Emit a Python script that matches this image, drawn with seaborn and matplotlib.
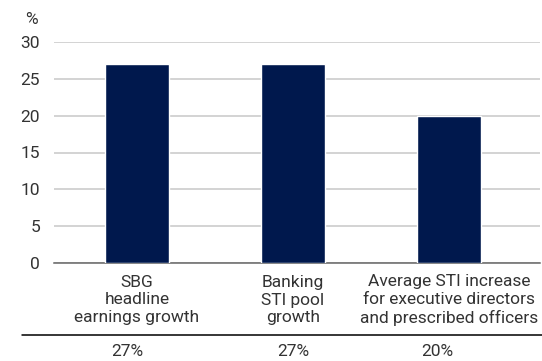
import matplotlib
matplotlib.use("Agg")
import matplotlib.pyplot as plt
import matplotlib.transforms as mtransforms
import seaborn as sns
import pandas as pd

# chart data
categories = ["SBG\nheadline\nearnings growth",
              "Banking\nSTI pool\ngrowth",
              "Average STI increase\nfor executive directors\nand prescribed officers"]
values = [27, 27, 20]
value_labels = ["27%", "27%", "20%"]
yticks = [0, 5, 10, 15, 20, 25, 30]

df = pd.DataFrame({"cat": categories, "val": values})

sns.set_style("white")
plt.rcParams["font.family"] = ["Roboto", "DejaVu Sans"]
text_col = "#333333"
fs = 12.5

W, H = 542, 361
fig = plt.figure(figsize=(W / 100, H / 100), dpi=100)
ax = fig.add_axes([54 / W, 1 - 263 / H, 486 / W, 221 / H])

sns.barplot(data=df, x="cat", y="val", color="#00184D", width=0.41,
            saturation=1, ax=ax, zorder=3)

ax.set_ylim(0, 30)
ax.set_xlim(-0.532, 2.583)
ax.set_yticks(yticks)
ax.set_yticklabels([str(t) for t in yticks], fontsize=fs, color=text_col)
ax.yaxis.grid(True, color="#c8c8c8", linewidth=1.1, zorder=0)
ax.tick_params(axis="y", length=0, pad=10)
ax.tick_params(axis="x", length=0)
for s in ["top", "right", "left"]:
    ax.spines[s].set_visible(False)
ax.spines["bottom"].set_color("#666666")
ax.spines["bottom"].set_linewidth(1.1)
ax.set_xlabel("")
ax.set_ylabel("")
ax.set_xticklabels([])

trans = mtransforms.blended_transform_factory(ax.transData, fig.transFigure)

# % unit label
fig.text(31 / W, 1 - 20 / H, "%", fontsize=fs, color=text_col, ha="center", va="center")

# category labels under bars
for i, c in enumerate(categories):
    fig.text(i, 1 - 300 / H, c, ha="center", va="center", fontsize=fs, color=text_col,
             linespacing=1.2, transform=trans)

# table rule and values
fig.add_artist(plt.Line2D([22 / W, 1], [1 - 335 / H] * 2, color="black", linewidth=1.1))
val_shift = [-0.065, 0.0, -0.075]
for i, v in enumerate(value_labels):
    fig.text(i + val_shift[i], 1 - 352 / H, v, ha="center", va="center", fontsize=fs,
             color=text_col, transform=trans)

fig.savefig("out.png", dpi=100)
